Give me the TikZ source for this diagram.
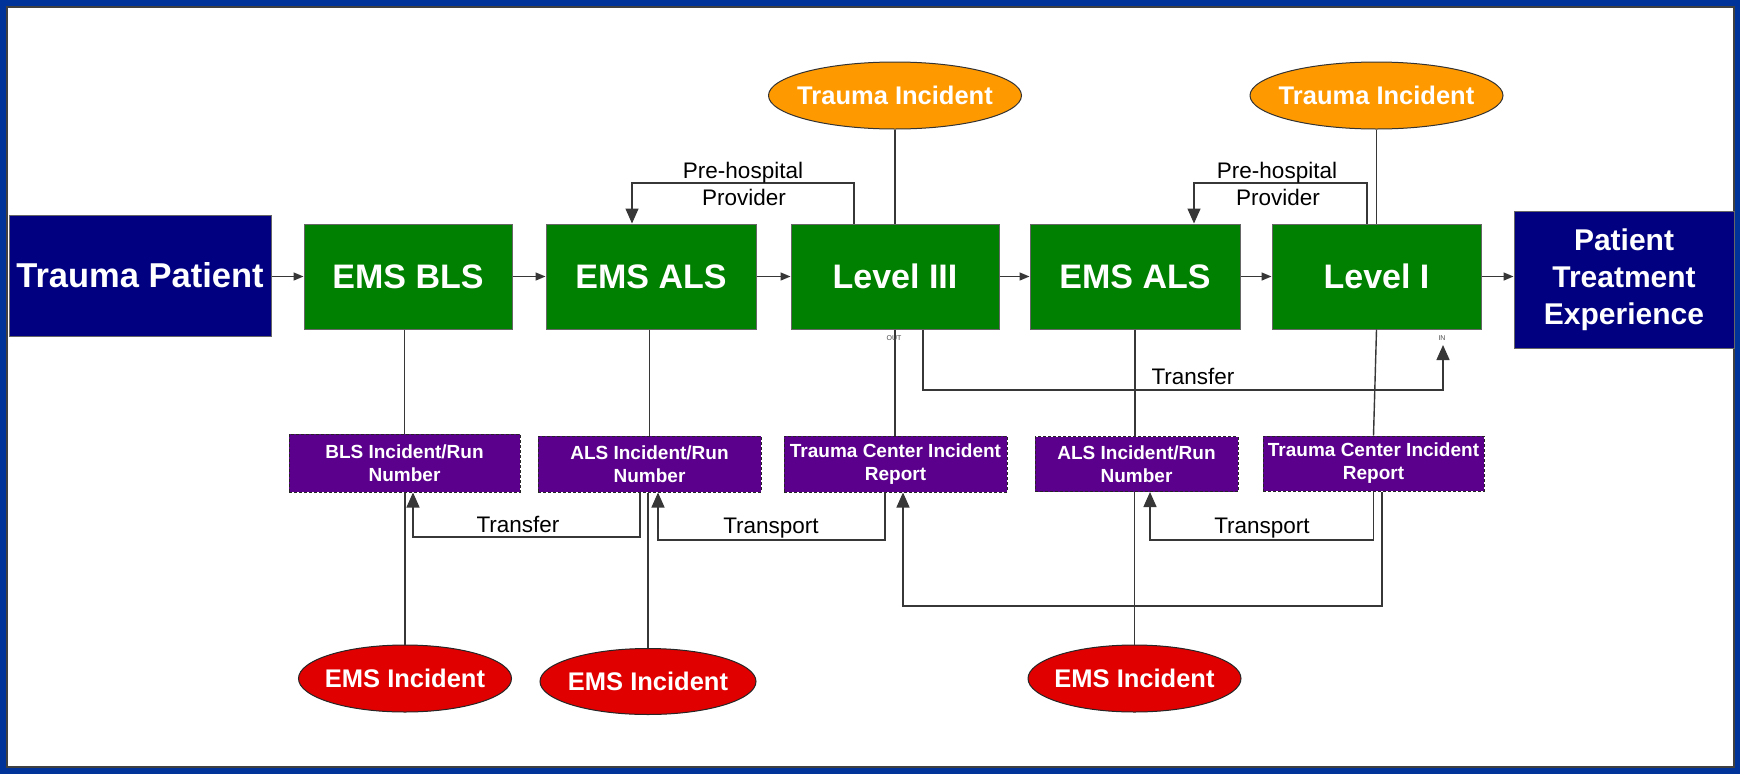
\documentclass[tikz,border=0pt]{standalone}
\usepackage{fontspec}
\setmainfont{Liberation Sans}
\usetikzlibrary{arrows.meta,shapes.geometric}
\definecolor{framebl}{RGB}{0,51,153}
\definecolor{navyfill}{RGB}{0,0,128}
\definecolor{boxgreen}{RGB}{0,128,0}
\definecolor{orng}{RGB}{255,153,0}
\definecolor{redfill}{RGB}{224,0,0}
\definecolor{purp}{RGB}{90,0,140}
\definecolor{lncol}{RGB}{55,55,55}
\newcommand\myfXL{\fontsize{34.5}{40}\selectfont\bfseries}
\newcommand\myfL{\fontsize{34}{40}\selectfont\bfseries}
\newcommand\myfPT{\fontsize{30}{37}\selectfont\bfseries}
\newcommand\myfM{\fontsize{25.5}{30}\selectfont\bfseries}
\newcommand\myfS{\fontsize{19}{23}\selectfont\bfseries}
\newcommand\myfR{\fontsize{22.5}{27}\selectfont}
\newcommand\myfT{\fontsize{7}{8}\selectfont}
\begin{document}
\begin{tikzpicture}[x=1pt,y=-1pt,
  navybox/.style={rectangle, draw=black!60, line width=1pt, fill=navyfill, text=white, inner sep=0pt, align=center},
  greenbox/.style={rectangle, draw=black!60, line width=1pt, fill=boxgreen, text=white, minimum width=208, minimum height=105, inner sep=0pt, font=\myfL},
  purpbox/.style={rectangle, draw=black!85, dash pattern=on 3pt off 2pt, line width=1pt, fill=purp, text=white, minimum height=56, inner sep=0pt, align=center, font=\myfS},
  orell/.style={ellipse, draw=black!80, line width=1pt, fill=orng, minimum width=253, minimum height=67, inner sep=0pt, label={[text=white, font=\myfM, inner sep=0pt]center:#1}},
  redell/.style={ellipse, draw=black!85, line width=1pt, fill=redfill, minimum width=213, minimum height=67, inner sep=0pt, label={[text=white, font=\myfM, inner sep=0pt]center:#1}},
  conn/.style={draw=lncol, line width=1.4pt},
  sarr/.style={conn, -{Triangle[length=10pt,width=8pt]}},
  barr/.style={conn, -{Triangle[length=15pt,width=13pt]}},
  lbl/.style={font=\myfR, text=black, inner sep=0pt},
  tinylbl/.style={font=\myfT, text=black!70, inner sep=0pt}
]
\useasboundingbox (0,0) rectangle (1740,774);
\fill[framebl] (0,0) rectangle (1740,774);
\fill[white] (7,7) rectangle (1734,767);
\draw[black!75, line width=2pt] (7,7) rectangle (1734,767);

% main row
\node[navybox, minimum width=262, minimum height=121, font=\myfXL] (tp) at (140,275.5) {Trauma Patient};
\node[greenbox] (bls) at (408,276.5) {EMS BLS};
\node[greenbox, minimum width=210] (als1) at (651,276.5) {EMS ALS};
\node[greenbox] (l3) at (895,276.5) {Level III};
\node[greenbox, minimum width=210] (als2) at (1135,276.5) {EMS ALS};
\node[greenbox, minimum width=209] (l1) at (1376.5,276.5) {Level I};
\node[navybox, minimum width=220, minimum height=137, font=\myfPT] (pte) at (1624,279.5) {Patient\\Treatment\\Experience};

% trauma incidents
\node[orell={Trauma Incident}] (ti1) at (895,95.5) {};
\node[orell={Trauma Incident}] (ti2) at (1376.5,95.5) {};

% record boxes
\node[purpbox, minimum width=231, minimum height=58] (pb1) at (404.5,463) {BLS Incident/Run\\Number};
\node[purpbox, minimum width=223] (pa1) at (649.5,464) {ALS Incident/Run\\Number};
\node[purpbox, minimum width=223] (pt1) at (895.5,464) {Trauma Center Incident\\Report};
\node[purpbox, minimum width=203, minimum height=55] (pa2) at (1136.5,464) {ALS Incident/Run\\Number};
\node[purpbox, minimum width=221, minimum height=55] (pt2) at (1373.5,463.5) {Trauma Center Incident\\Report};

% EMS incidents
\node[redell={EMS Incident}] (ei1) at (405,678.5) {};
\node[redell={EMS Incident}, minimum width=216, minimum height=66] (ei2) at (648,681.5) {};
\node[redell={EMS Incident}] (ei3) at (1134.5,678.5) {};

% main flow arrows
\draw[sarr] (tp.east |- bls) -- (bls.west);
\draw[sarr] (bls) -- (als1);
\draw[sarr] (als1) -- (l3);
\draw[sarr] (l3) -- (als2);
\draw[sarr] (als2) -- (l1);
\draw[sarr] (l1.east) -- (l1.east -| pte.west);

% trauma incident lines
\draw[conn] (ti1.south) -- (l3.north);
\draw[conn] (ti2.south) -- (l1.north);

% pre-hospital provider
\coordinate (ph1a) at (854,183);
\coordinate (ph1b) at (632,183);
\draw[barr] (l3.north -| ph1a) -- (ph1a) -- (ph1b) -- (ph1b |- als1.north);
\node[lbl, anchor=base] (phl1) at (743,178) {Pre-hospital};
\node[lbl, anchor=base] (pvl1) at (744,205) {Provider};
\coordinate (ph2a) at (1367,183);
\coordinate (ph2b) at (1194,183);
\draw[barr] (l1.north -| ph2a) -- (ph2a) -- (ph2b) -- (ph2b |- als2.north);
\node[lbl, anchor=base] (phl2) at (1277,178) {Pre-hospital};
\node[lbl, anchor=base] (pvl2) at (1278,205) {Provider};

% vertical links to records
\draw[conn] (bls.south -| pb1) -- (pb1.north);
\draw[conn] (als1.south -| pa1) -- (pa1.north);
\draw[conn] (l3.south) -- (l3.south |- pt1.north);
\draw[conn] (als2.south) -- (als2.south |- pa2.north);
\draw[conn] (l1.south) -- (pt2.north);

% EMS incident links
\draw[conn] (ei1.north) -- (ei1.north |- pb1.south);
\draw[conn] (ei2.north) -- (ei2.north |- pa1.south);
\draw[conn] (ei3.north) -- (ei3.north |- pa2.south);

% transfer / transport
\coordinate (tr1a) at (640,537);
\coordinate (tr1b) at (413,537);
\draw[barr] (pa1.south -| tr1a) -- (tr1a) -- (tr1b) -- (tr1b |- pb1.south);
\node[lbl, anchor=base] (trl1) at (518,532) {Transfer};

\coordinate (tp1a) at (885,540);
\coordinate (tp1b) at (658,540);
\draw[barr] (pt1.south -| tp1a) -- (tp1a) -- (tp1b) -- (tp1b |- pa1.south);
\node[lbl, anchor=base] (tpl1) at (771,533) {Transport};

\coordinate (tp2a) at (1373.5,540);
\coordinate (tp2b) at (1150,540);
\draw[barr] (pt2.south -| tp2a) -- (tp2a) -- (tp2b) -- (tp2b |- pa2.south);
\node[lbl, anchor=base] (tpl2) at (1262,533) {Transport};

\coordinate (lpa) at (1382,606);
\coordinate (lpb) at (903,606);
\draw[barr] (pt2.south -| lpa) -- (lpa) -- (lpb) -- (lpb |- pt1.south);

\coordinate (uta) at (923,390);
\coordinate (utb) at (1443,390);
\coordinate (inpt) at (1443,345);
\draw[barr] (l3.south -| uta) -- (uta) -- (utb) -- (inpt);
\node[lbl, anchor=base] (trl2) at (1193,384) {Transfer};

\node[tinylbl] (outl) at (894,338) {OUT};
\node[tinylbl] (inl) at (1442,338) {IN};
\end{tikzpicture}
\end{document}
